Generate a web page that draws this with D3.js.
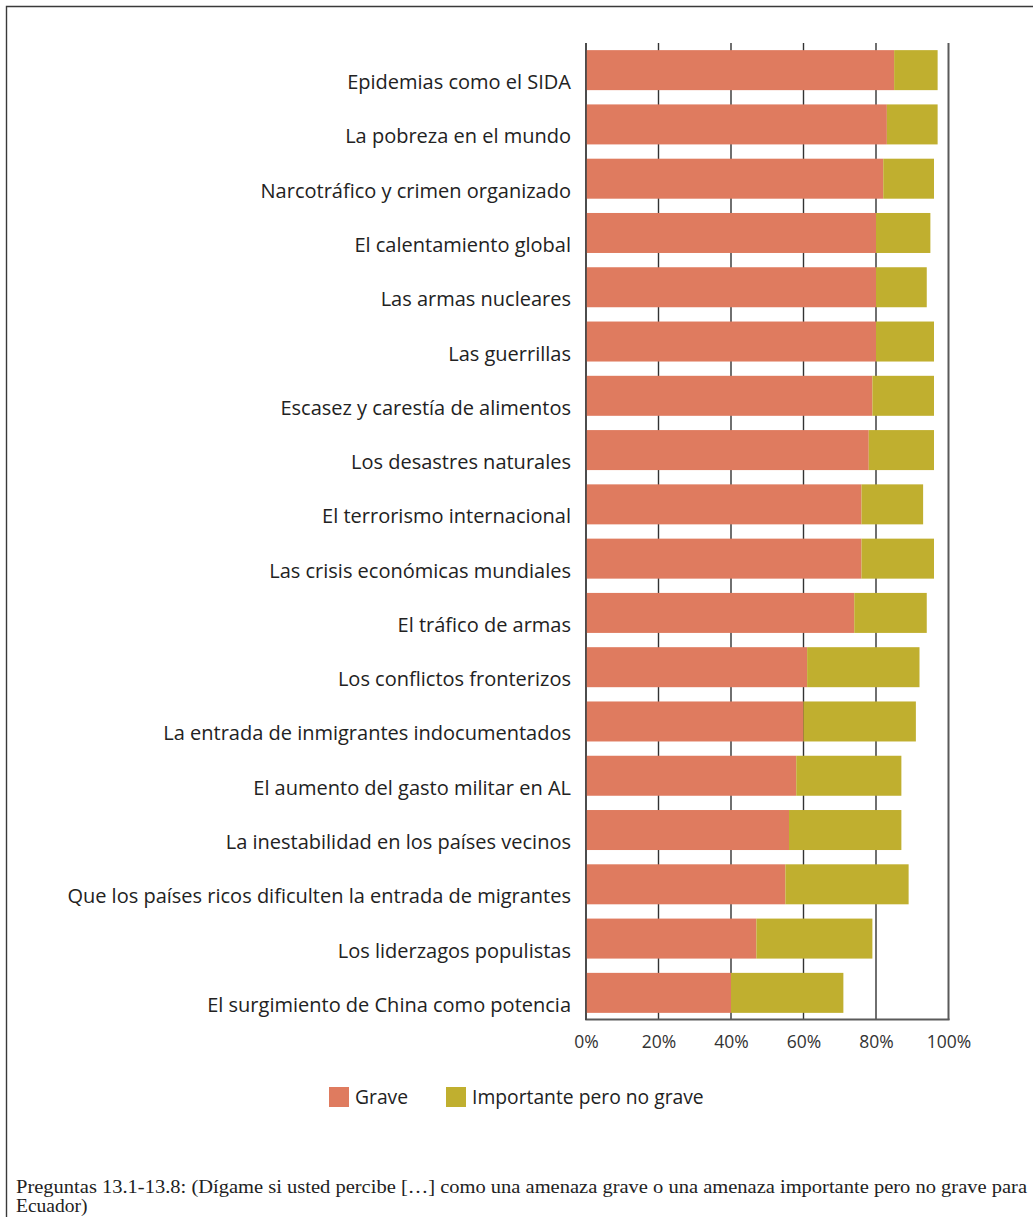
<!DOCTYPE html>
<html><head><meta charset="utf-8">
<script src="https://cdn.jsdelivr.net/npm/d3@7"></script>
<style>
html,body{margin:0;padding:0;background:#fff;}
svg{display:block;}
</style></head>
<body>
<script>
const categories = [
  "Epidemias como el SIDA",
  "La pobreza en el mundo",
  "Narcotráfico y crimen organizado",
  "El calentamiento global",
  "Las armas nucleares",
  "Las guerrillas",
  "Escasez y carestía de alimentos",
  "Los desastres naturales",
  "El terrorismo internacional",
  "Las crisis económicas mundiales",
  "El tráfico de armas",
  "Los conflictos fronterizos",
  "La entrada de inmigrantes indocumentados",
  "El aumento del gasto militar en AL",
  "La inestabilidad en los países vecinos",
  "Que los países ricos dificulten la entrada de migrantes",
  "Los liderzagos populistas",
  "El surgimiento de China como potencia"
];
const grave =      [85,83,82,80,80,80,79,78,76,76,74,61,60,58,56,55,47,40];
const importante = [12,14,14,15,14,16,17,18,17,20,20,31,31,29,31,34,32,31];
const seriesNames = ["Grave","Importante pero no grave"];
const seriesColors = ["#DF7B5F","#C0AF2F"];
const tickValues = [0,20,40,60,80,100];
const tickLabels = ["0%","20%","40%","60%","80%","100%"];
const footnote1 = "Preguntas 13.1-13.8: (Dígame si usted percibe […] como una amenaza grave o una amenaza importante pero no grave para";
const footnote2 = "Ecuador)";

const W = 1033, H = 1217;
const svg = d3.select("body").append("svg").attr("width", W).attr("height", H);

// frame
svg.append("path").attr("d", `M6.5,${H} L6.5,6.5 L${W+2},6.5`)
  .attr("fill","none").attr("stroke","#3a3a3a").attr("stroke-width",1.4);

const x = d3.scaleLinear().domain([0,100]).range([586, 948.5]);
const y = d3.scaleBand().domain(categories).range([43, 1020]).paddingInner(0.263).paddingOuter(0.1315);

const data = categories.map((c,i)=>({cat:c, grave:grave[i], importante:importante[i]}));
const stack = d3.stack().keys(["grave","importante"])(data);

// gridlines
const g = svg.append("g");
g.selectAll("line.grid").data(tickValues).join("line")
  .attr("x1", d=>x(d)).attr("x2", d=>x(d))
  .attr("y1", 43).attr("y2", 1020)
  .attr("stroke", d=> d===100 ? "#5a5a5a" : "#333")
  .attr("stroke-width", d=> d===100 ? 2 : 1.4);

// bars
svg.append("g").selectAll("g").data(stack).join("g")
  .attr("fill", (d,i)=>seriesColors[i])
  .selectAll("rect").data(d=>d).join("rect")
  .attr("x", d=>x(d[0]))
  .attr("width", d=>x(d[1])-x(d[0]))
  .attr("y", d=>y(d.data.cat))
  .attr("height", y.bandwidth());

// bottom axis line
svg.append("line").attr("x1", x(0)-0.7).attr("x2", x(100)+1)
  .attr("y1", 1019.5).attr("y2", 1019.5)
  .attr("stroke","#5a5a5a").attr("stroke-width",2);
// left axis line
svg.append("line").attr("x1", x(0)).attr("x2", x(0))
  .attr("y1", 43).attr("y2", 1020)
  .attr("stroke","#444").attr("stroke-width",1.6);

// x tick labels
const xAxis = d3.axisBottom(x).tickValues(tickValues).tickFormat((d,i)=>tickLabels[i]).tickSize(0).tickPadding(0);
const ax = svg.append("g").attr("transform","translate(0,1048)").call(xAxis);
ax.select(".domain").remove();
ax.selectAll("text").attr("font-family","'Open Sans', sans-serif").attr("font-size",17.5)
  .attr("fill","#333").attr("dy",0);

// category labels
const yAxis = d3.axisLeft(y).tickSize(0).tickPadding(0);
const ay = svg.append("g").attr("transform","translate(571,0)").call(yAxis);
ay.select(".domain").remove();
ay.selectAll("text").attr("font-family","'Open Sans', sans-serif").attr("font-size",20)
  .attr("fill","#222").attr("dy","0.95em").attr("x",0);

// legend
const leg = svg.append("g");
const legX = [329, 446];
seriesNames.forEach((n,i)=>{
  leg.append("rect").attr("x", legX[i]).attr("y",1087).attr("width",20).attr("height",20).attr("fill",seriesColors[i]);
  leg.append("text").attr("x", legX[i]+26).attr("y",1104).text(n)
    .attr("font-family","'Open Sans', sans-serif").attr("font-size",19.3).attr("fill","#222");
});

// footnote
svg.append("text").attr("x",16).attr("y",1193).text(footnote1)
  .attr("font-family","'Liberation Serif', serif").attr("font-size",19.5).attr("fill","#222")
  .attr("textLength",1011).attr("lengthAdjust","spacingAndGlyphs");
svg.append("text").attr("x",16).attr("y",1212).text(footnote2)
  .attr("font-family","'Liberation Serif', serif").attr("font-size",19.5).attr("fill","#222");
</script>
</body></html>
